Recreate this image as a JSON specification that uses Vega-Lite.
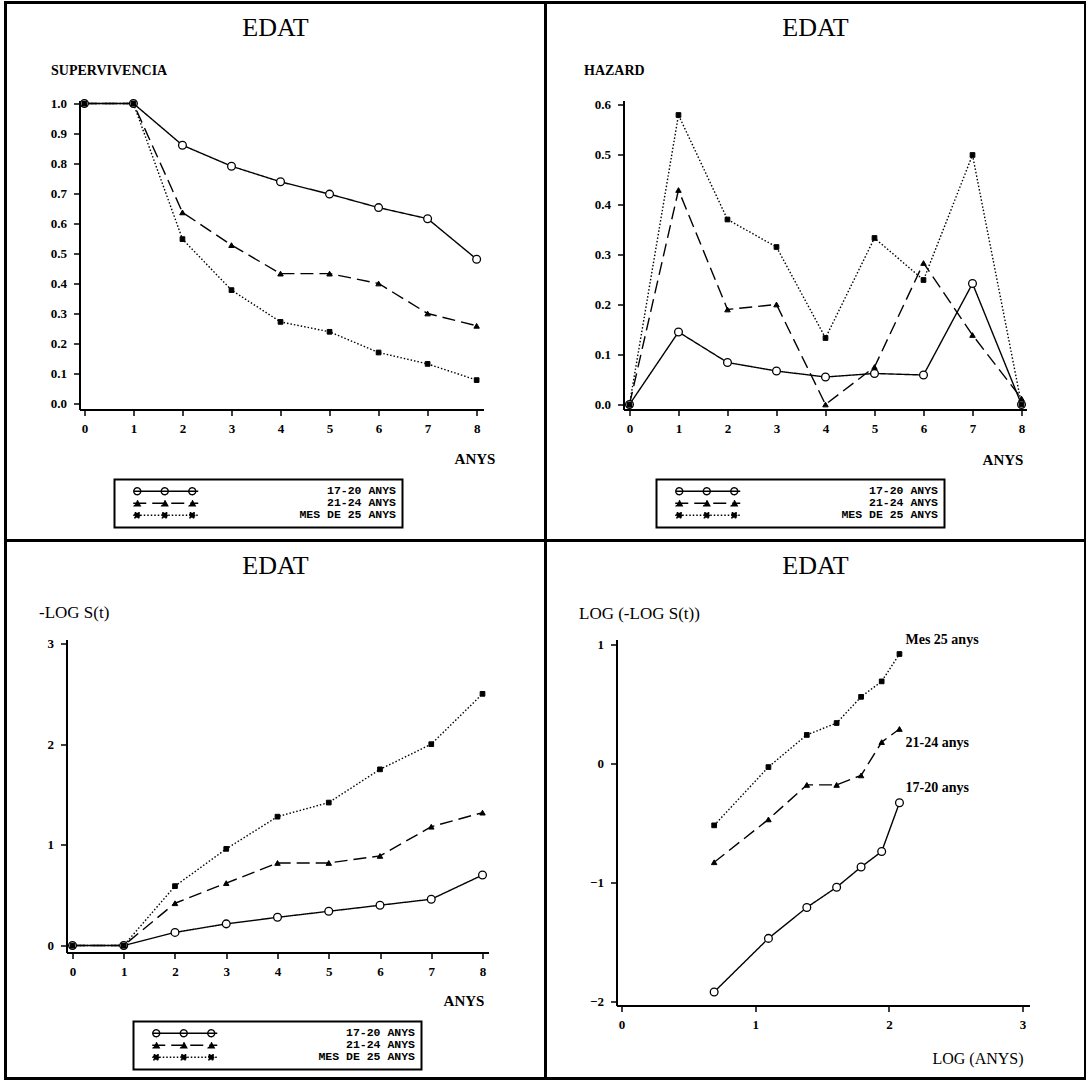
{
  "$schema": "https://vega.github.io/schema/vega-lite/v6.json",
  "background": "white",
  "padding": {"left": 3.5, "top": 0.5, "right": 0, "bottom": 0},
  "autosize": {"type": "pad"},
  "datasets": {
    "edat": [
      {"grup": "17-20 ANYS", "t": 0, "s": 1.0, "h": 0.0, "ls": 0.0, "logt": null, "llt": null},
      {"grup": "17-20 ANYS", "t": 1, "s": 1.0, "h": 0.145, "ls": 0.0, "logt": null, "llt": null},
      {"grup": "17-20 ANYS", "t": 2, "s": 0.861, "h": 0.084, "ls": 0.13, "logt": 0.693, "llt": -1.92},
      {"grup": "17-20 ANYS", "t": 3, "s": 0.791, "h": 0.067, "ls": 0.215, "logt": 1.099, "llt": -1.47},
      {"grup": "17-20 ANYS", "t": 4, "s": 0.739, "h": 0.055, "ls": 0.28, "logt": 1.386, "llt": -1.21},
      {"grup": "17-20 ANYS", "t": 5, "s": 0.698, "h": 0.062, "ls": 0.34, "logt": 1.609, "llt": -1.04},
      {"grup": "17-20 ANYS", "t": 6, "s": 0.653, "h": 0.059, "ls": 0.4, "logt": 1.792, "llt": -0.87},
      {"grup": "17-20 ANYS", "t": 7, "s": 0.616, "h": 0.242, "ls": 0.46, "logt": 1.946, "llt": -0.74},
      {"grup": "17-20 ANYS", "t": 8, "s": 0.481, "h": 0.0, "ls": 0.7, "logt": 2.079, "llt": -0.33},
      {"grup": "21-24 ANYS", "t": 0, "s": 1.0, "h": 0.0, "ls": 0.0, "logt": null, "llt": null},
      {"grup": "21-24 ANYS", "t": 1, "s": 1.0, "h": 0.429, "ls": 0.0, "logt": null, "llt": null},
      {"grup": "21-24 ANYS", "t": 2, "s": 0.637, "h": 0.19, "ls": 0.42, "logt": 0.693, "llt": -0.83},
      {"grup": "21-24 ANYS", "t": 3, "s": 0.528, "h": 0.2, "ls": 0.62, "logt": 1.099, "llt": -0.47},
      {"grup": "21-24 ANYS", "t": 4, "s": 0.433, "h": 0.0, "ls": 0.82, "logt": 1.386, "llt": -0.18},
      {"grup": "21-24 ANYS", "t": 5, "s": 0.433, "h": 0.075, "ls": 0.82, "logt": 1.609, "llt": -0.18},
      {"grup": "21-24 ANYS", "t": 6, "s": 0.4, "h": 0.283, "ls": 0.89, "logt": 1.792, "llt": -0.1},
      {"grup": "21-24 ANYS", "t": 7, "s": 0.3, "h": 0.139, "ls": 1.18, "logt": 1.946, "llt": 0.18},
      {"grup": "21-24 ANYS", "t": 8, "s": 0.259, "h": 0.012, "ls": 1.32, "logt": 2.079, "llt": 0.29},
      {"grup": "MES DE 25 ANYS", "t": 0, "s": 1.0, "h": 0.0, "ls": 0.0, "logt": null, "llt": null},
      {"grup": "MES DE 25 ANYS", "t": 1, "s": 1.0, "h": 0.579, "ls": 0.0, "logt": null, "llt": null},
      {"grup": "MES DE 25 ANYS", "t": 2, "s": 0.548, "h": 0.37, "ls": 0.59, "logt": 0.693, "llt": -0.52},
      {"grup": "MES DE 25 ANYS", "t": 3, "s": 0.378, "h": 0.315, "ls": 0.96, "logt": 1.099, "llt": -0.03},
      {"grup": "MES DE 25 ANYS", "t": 4, "s": 0.272, "h": 0.133, "ls": 1.28, "logt": 1.386, "llt": 0.24},
      {"grup": "MES DE 25 ANYS", "t": 5, "s": 0.239, "h": 0.333, "ls": 1.42, "logt": 1.609, "llt": 0.34},
      {"grup": "MES DE 25 ANYS", "t": 6, "s": 0.17, "h": 0.249, "ls": 1.75, "logt": 1.792, "llt": 0.56},
      {"grup": "MES DE 25 ANYS", "t": 7, "s": 0.132, "h": 0.499, "ls": 2.0, "logt": 1.946, "llt": 0.69},
      {"grup": "MES DE 25 ANYS", "t": 8, "s": 0.078, "h": 0.0, "ls": 2.5, "logt": 2.079, "llt": 0.92}
    ],
    "etiquetes": [
      {"grup": "MES DE 25 ANYS", "nom": "Mes 25 anys", "logt": 2.079, "llt": 0.92},
      {"grup": "21-24 ANYS", "nom": "21-24 anys", "logt": 2.079, "llt": 0.29},
      {"grup": "17-20 ANYS", "nom": "17-20 anys", "logt": 2.079, "llt": -0.33}
    ]
  },
  "bounds": "flush",
  "spacing": 0,
  "columns": 2,
  "resolve": {
    "scale": {"strokeDash": "independent", "shape": "independent", "fill": "independent"},
    "legend": {"strokeDash": "independent"}
  },
  "concat": [
    {
      "width": 540, "height": 538,
      "title": "EDAT",
      "data": {"name": "edat"},
      "encoding": {
        "x": {"field": "t", "type": "quantitative",
          "scale": {"domain": [-0.1, 8.14], "range": [74, 478], "nice": false, "zero": false},
          "axis": {"values": [0, 1, 2, 3, 4, 5, 6, 7, 8], "format": "d", "offset": -131, "title": "ANYS", "titleX": 469, "titleY": 49}},
        "y": {"field": "s", "type": "quantitative",
          "scale": {"domain": [-0.02, 1.01], "range": [407, 98], "nice": false, "zero": false},
          "axis": {"values": [0, 0.1, 0.2, 0.3, 0.4, 0.5, 0.6, 0.7, 0.8, 0.9, 1.0], "format": ".1f", "offset": -74,
            "title": "SUPERVIVENCIA", "titleX": -29, "titleY": 68, "titleFontWeight": "bold", "titleFontSize": 14}}
      },
      "layer": [
        {"mark": {"type": "line", "color": "black", "strokeWidth": 1.4},
         "encoding": {"strokeDash": {"field": "grup", "type": "nominal",
           "scale": {"domain": ["17-20 ANYS", "21-24 ANYS", "MES DE 25 ANYS"], "range": [[1, 0], [13, 6], [1.5, 2]]},
           "legend": {"legendX": 109, "legendY": 477}}}},
        {"mark": {"type": "point", "filled": true, "opacity": 0, "size": 4},
         "encoding": {
           "shape": {"field": "grup", "type": "nominal", "legend": null,
             "scale": {"domain": ["17-20 ANYS", "21-24 ANYS", "MES DE 25 ANYS"],
               "range": ["M7,0H72M14.5,0A3.5,3.5,0,1,1,7.5,0A3.5,3.5,0,1,1,14.5,0M42,0A3.5,3.5,0,1,1,35,0A3.5,3.5,0,1,1,42,0M69.5,0A3.5,3.5,0,1,1,62.5,0A3.5,3.5,0,1,1,69.5,0",
                         "M7,0H72M11,-3L14,2.5L8,2.5ZM38.5,-3L41.5,2.5L35.5,2.5ZM66,-3L69,2.5L63,2.5Z",
                         "M7,0H72M8.5,-2.5H13.5V2.5H8.5ZM36,-2.5H41V2.5H36ZM63.5,-2.5H68.5V2.5H63.5Z"]}},
           "fill": {"field": "grup", "type": "nominal", "legend": null,
             "scale": {"domain": ["17-20 ANYS", "21-24 ANYS", "MES DE 25 ANYS"], "range": ["transparent", "black", "black"]}}}},
        {"transform": [{"filter": "datum.grup === '17-20 ANYS'"}],
         "mark": {"type": "point", "shape": "circle", "filled": true, "fill": "white", "stroke": "black", "strokeWidth": 1.3, "size": 60, "opacity": 1}},
        {"transform": [{"filter": "datum.grup === '21-24 ANYS'"}],
         "mark": {"type": "point", "shape": "triangle-up", "filled": true, "fill": "black", "stroke": "black", "strokeWidth": 1, "size": 30, "opacity": 1}},
        {"transform": [{"filter": "datum.grup === 'MES DE 25 ANYS'"}],
         "mark": {"type": "point", "shape": "square", "filled": true, "fill": "black", "stroke": "black", "strokeWidth": 1, "size": 22, "opacity": 1}}
      ]
    },
    {
      "width": 540, "height": 538,
      "title": "EDAT",
      "data": {"name": "edat"},
      "encoding": {
        "x": {"field": "t", "type": "quantitative",
          "scale": {"domain": [-0.122, 8.102], "range": [78, 481], "nice": false, "zero": false},
          "axis": {"values": [0, 1, 2, 3, 4, 5, 6, 7, 8], "format": "d", "offset": -131, "title": "ANYS", "titleX": 457, "titleY": 50}},
        "y": {"field": "h", "type": "quantitative",
          "scale": {"domain": [-0.01, 0.608], "range": [407, 98], "nice": false, "zero": false},
          "axis": {"values": [0, 0.1, 0.2, 0.3, 0.4, 0.5, 0.6], "format": ".1f", "offset": -78,
            "title": "HAZARD", "titleX": -40, "titleY": 68, "titleFontWeight": "bold", "titleFontSize": 14}}
      },
      "layer": [
        {"mark": {"type": "line", "color": "black", "strokeWidth": 1.4},
         "encoding": {"strokeDash": {"field": "grup", "type": "nominal",
           "scale": {"domain": ["17-20 ANYS", "21-24 ANYS", "MES DE 25 ANYS"], "range": [[1, 0], [13, 6], [1.5, 2]]},
           "legend": {"legendX": 111, "legendY": 477}}}},
        {"mark": {"type": "point", "filled": true, "opacity": 0, "size": 4},
         "encoding": {
           "shape": {"field": "grup", "type": "nominal", "legend": null,
             "scale": {"domain": ["17-20 ANYS", "21-24 ANYS", "MES DE 25 ANYS"],
               "range": ["M7,0H72M14.5,0A3.5,3.5,0,1,1,7.5,0A3.5,3.5,0,1,1,14.5,0M42,0A3.5,3.5,0,1,1,35,0A3.5,3.5,0,1,1,42,0M69.5,0A3.5,3.5,0,1,1,62.5,0A3.5,3.5,0,1,1,69.5,0",
                         "M7,0H72M11,-3L14,2.5L8,2.5ZM38.5,-3L41.5,2.5L35.5,2.5ZM66,-3L69,2.5L63,2.5Z",
                         "M7,0H72M8.5,-2.5H13.5V2.5H8.5ZM36,-2.5H41V2.5H36ZM63.5,-2.5H68.5V2.5H63.5Z"]}},
           "fill": {"field": "grup", "type": "nominal", "legend": null,
             "scale": {"domain": ["17-20 ANYS", "21-24 ANYS", "MES DE 25 ANYS"], "range": ["transparent", "black", "black"]}}}},
        {"transform": [{"filter": "datum.grup === '17-20 ANYS'"}],
         "mark": {"type": "point", "shape": "circle", "filled": true, "fill": "white", "stroke": "black", "strokeWidth": 1.3, "size": 60, "opacity": 1}},
        {"transform": [{"filter": "datum.grup === '21-24 ANYS'"}],
         "mark": {"type": "point", "shape": "triangle-up", "filled": true, "fill": "black", "stroke": "black", "strokeWidth": 1, "size": 30, "opacity": 1}},
        {"transform": [{"filter": "datum.grup === 'MES DE 25 ANYS'"}],
         "mark": {"type": "point", "shape": "square", "filled": true, "fill": "black", "stroke": "black", "strokeWidth": 1, "size": 22, "opacity": 1}}
      ]
    },
    {
      "width": 540, "height": 538,
      "title": "EDAT",
      "data": {"name": "edat"},
      "encoding": {
        "x": {"field": "t", "type": "quantitative",
          "scale": {"domain": [-0.117, 8.117], "range": [61, 483], "nice": false, "zero": false},
          "axis": {"values": [0, 1, 2, 3, 4, 5, 6, 7, 8], "format": "d", "offset": -126, "title": "ANYS", "titleX": 458, "titleY": 48}},
        "y": {"field": "ls", "type": "quantitative",
          "scale": {"domain": [-0.0695, 3.04], "range": [412, 99], "nice": false, "zero": false},
          "axis": {"values": [0, 1, 2, 3], "format": "d", "offset": -61,
            "title": "-LOG S(t)", "titleX": -28, "titleY": 72, "titleFontWeight": "normal", "titleFontSize": 17}}
      },
      "layer": [
        {"mark": {"type": "line", "color": "black", "strokeWidth": 1.4},
         "encoding": {"strokeDash": {"field": "grup", "type": "nominal",
           "scale": {"domain": ["17-20 ANYS", "21-24 ANYS", "MES DE 25 ANYS"], "range": [[1, 0], [13, 6], [1.5, 2]]},
           "legend": {"legendX": 128, "legendY": 481}}}},
        {"mark": {"type": "point", "filled": true, "opacity": 0, "size": 4},
         "encoding": {
           "shape": {"field": "grup", "type": "nominal", "legend": null,
             "scale": {"domain": ["17-20 ANYS", "21-24 ANYS", "MES DE 25 ANYS"],
               "range": ["M7,0H72M14.5,0A3.5,3.5,0,1,1,7.5,0A3.5,3.5,0,1,1,14.5,0M42,0A3.5,3.5,0,1,1,35,0A3.5,3.5,0,1,1,42,0M69.5,0A3.5,3.5,0,1,1,62.5,0A3.5,3.5,0,1,1,69.5,0",
                         "M7,0H72M11,-3L14,2.5L8,2.5ZM38.5,-3L41.5,2.5L35.5,2.5ZM66,-3L69,2.5L63,2.5Z",
                         "M7,0H72M8.5,-2.5H13.5V2.5H8.5ZM36,-2.5H41V2.5H36ZM63.5,-2.5H68.5V2.5H63.5Z"]}},
           "fill": {"field": "grup", "type": "nominal", "legend": null,
             "scale": {"domain": ["17-20 ANYS", "21-24 ANYS", "MES DE 25 ANYS"], "range": ["transparent", "black", "black"]}}}},
        {"transform": [{"filter": "datum.grup === '17-20 ANYS'"}],
         "mark": {"type": "point", "shape": "circle", "filled": true, "fill": "white", "stroke": "black", "strokeWidth": 1.3, "size": 60, "opacity": 1}},
        {"transform": [{"filter": "datum.grup === '21-24 ANYS'"}],
         "mark": {"type": "point", "shape": "triangle-up", "filled": true, "fill": "black", "stroke": "black", "strokeWidth": 1, "size": 30, "opacity": 1}},
        {"transform": [{"filter": "datum.grup === 'MES DE 25 ANYS'"}],
         "mark": {"type": "point", "shape": "square", "filled": true, "fill": "black", "stroke": "black", "strokeWidth": 1, "size": 22, "opacity": 1}}
      ]
    },
    {
      "width": 540, "height": 538,
      "title": "EDAT",
      "encoding": {
        "x": {"field": "logt", "type": "quantitative",
          "scale": {"domain": [-0.0374, 3.0516], "range": [71, 484], "nice": false, "zero": false},
          "axis": {"values": [0, 1, 2, 3], "format": "d", "offset": -73, "title": "LOG (ANYS)", "titleX": 432, "titleY": 53,
            "titleFontWeight": "normal", "titleFontSize": 16}},
        "y": {"field": "llt", "type": "quantitative",
          "scale": {"domain": [-2.034, 1.042], "range": [465, 99], "nice": false, "zero": false},
          "axis": {"values": [-2, -1, 0, 1], "format": "d", "offset": -71,
            "title": "LOG (-LOG S(t))", "titleX": -38, "titleY": 73, "titleFontWeight": "normal", "titleFontSize": 17}}
      },
      "layer": [
        {"data": {"name": "edat"}, "transform": [{"filter": "isValid(datum.llt)"}],
         "mark": {"type": "line", "color": "black", "strokeWidth": 1.4},
         "encoding": {"strokeDash": {"field": "grup", "type": "nominal", "legend": null,
           "scale": {"domain": ["17-20 ANYS", "21-24 ANYS", "MES DE 25 ANYS"], "range": [[1, 0], [13, 6], [1.5, 2]]}}}},
        {"data": {"name": "edat"}, "transform": [{"filter": "isValid(datum.llt) && datum.grup === '17-20 ANYS'"}],
         "mark": {"type": "point", "shape": "circle", "filled": true, "fill": "white", "stroke": "black", "strokeWidth": 1.3, "size": 60, "opacity": 1}},
        {"data": {"name": "edat"}, "transform": [{"filter": "isValid(datum.llt) && datum.grup === '21-24 ANYS'"}],
         "mark": {"type": "point", "shape": "triangle-up", "filled": true, "fill": "black", "stroke": "black", "strokeWidth": 1, "size": 30, "opacity": 1}},
        {"data": {"name": "edat"}, "transform": [{"filter": "isValid(datum.llt) && datum.grup === 'MES DE 25 ANYS'"}],
         "mark": {"type": "point", "shape": "square", "filled": true, "fill": "black", "stroke": "black", "strokeWidth": 1, "size": 22, "opacity": 1}},
        {"data": {"name": "etiquetes"}, "transform": [{"filter": "datum.grup === 'MES DE 25 ANYS'"}],
         "mark": {"type": "text", "align": "left", "baseline": "middle", "dx": 6, "dy": -14, "font": "Liberation Serif", "fontWeight": "bold", "fontSize": 14, "color": "black"},
         "encoding": {"text": {"field": "nom"}}},
        {"data": {"name": "etiquetes"}, "transform": [{"filter": "datum.grup === '21-24 ANYS'"}],
         "mark": {"type": "text", "align": "left", "baseline": "middle", "dx": 6, "dy": 14, "font": "Liberation Serif", "fontWeight": "bold", "fontSize": 14, "color": "black"},
         "encoding": {"text": {"field": "nom"}}},
        {"data": {"name": "etiquetes"}, "transform": [{"filter": "datum.grup === '17-20 ANYS'"}],
         "mark": {"type": "text", "align": "left", "baseline": "middle", "dx": 6, "dy": -15, "font": "Liberation Serif", "fontWeight": "bold", "fontSize": 14, "color": "black"},
         "encoding": {"text": {"field": "nom"}}}
      ]
    }
  ],
  "config": {
    "view": {"stroke": "black", "strokeWidth": 3},
    "title": {"font": "Liberation Serif", "fontSize": 26, "fontWeight": "normal", "color": "black",
      "anchor": "middle", "frame": "group", "offset": -38, "baseline": "alphabetic"},
    "axis": {"grid": false, "domainColor": "black", "domainWidth": 2, "tickColor": "black", "tickWidth": 1.5,
      "tickSize": 6, "labelPadding": 7, "labelFont": "Liberation Serif", "labelFontWeight": "bold",
      "labelFontSize": 13, "labelColor": "black", "titleFont": "Liberation Serif", "titleColor": "black",
      "titleFontWeight": "bold", "titleFontSize": 15, "titleAngle": 0, "titleAlign": "center", "titleBaseline": "middle",
      "labelFlush": false, "labelOverlap": false},
    "axisY": {"titleAlign": "left"},
    "legend": {
      "orient": "none", "title": null, "strokeColor": "black", "strokeWidth": 2, "padding": 6, "rowPadding": -1,
      "labelFont": "Liberation Mono", "labelFontWeight": "bold", "labelFontSize": 11.5, "labelColor": "black",
      "labelAlign": "right", "labelOffset": 264,
      "symbolSize": 4, "symbolOpacity": 1, "symbolStrokeColor": "black", "symbolStrokeWidth": 1.3, "labelLimit": 300
    }
  }
}
